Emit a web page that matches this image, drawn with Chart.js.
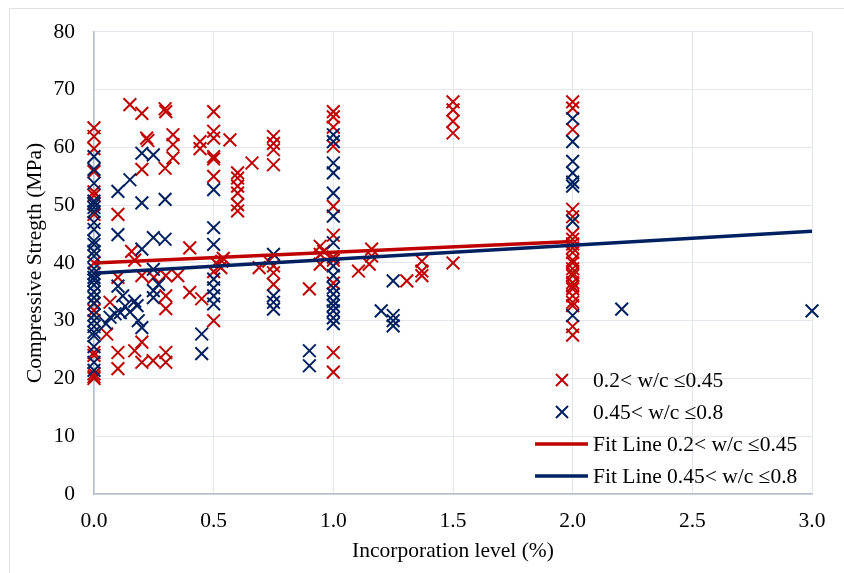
<!DOCTYPE html>
<html>
<head>
<meta charset="utf-8">
<script src="https://cdn.jsdelivr.net/npm/chart.js@4.4.1/dist/chart.umd.min.js"></script>
<style>
    html, body { margin: 0; padding: 0; background: #fff; }
    #wrap { position: relative; width: 844px; height: 573px; overflow: hidden; }
    #frame { position: absolute; left: 9px; top: 8px; width: 900px; height: 700px; border-left: 1px solid #e3e3e3; border-top: 1px solid #e3e3e3; pointer-events: none; }
</style>
</head>
<body>
<div id="wrap">
    <canvas id="scatterChart" width="844" height="573"></canvas>
    <div id="frame"></div>
</div>
<script>
// 0.2 < w/c <= 0.45
const lowX = [
    0, 0, 0, 0, 0, 0, 0, 0, 0, 0, 0, 0, 0, 0, 0,
    0.053, 0.067, 0.1, 0.1, 0.1, 0.1, 0.15, 0.157, 0.17, 0.17,
    0.2, 0.2, 0.2, 0.2, 0.2, 0.22, 0.225, 0.247, 0.25,
    0.297, 0.3, 0.297, 0.3, 0.3, 0.3, 0.3, 0.3,
    0.33, 0.33, 0.33, 0.35, 0.4, 0.4, 0.443, 0.443, 0.45,
    0.5, 0.5, 0.5, 0.5, 0.5, 0.5, 0.5, 0.5, 0.51, 0.534, 0.53, 0.54, 0.568,
    0.6, 0.6, 0.6, 0.6, 0.6, 0.6, 0.66, 0.69, 0.73,
    0.75, 0.75, 0.75, 0.75, 0.75, 0.75, 0.75, 0.9,
    0.945, 0.945, 0.945, 0.96,
    1, 1, 1, 1, 1, 1, 1, 1, 1, 1, 1,
    1.105, 1.16, 1.16, 1.15, 1.307, 1.37, 1.37, 1.37,
    1.5, 1.5, 1.5, 1.5, 1.5,
    2, 2, 2, 2, 2, 2, 2, 2, 2, 2, 2, 2, 2, 2, 2, 2, 2, 2, 2, 2, 2, 2, 2
];
const lowY = [
    63.4, 61.9, 59.8, 55.8, 52.3, 51.7, 48.4, 40.0, 33.0, 31.8, 24.5, 24.0, 20.8, 20.3, 20.0,
    27.7, 33.2, 48.4, 37.5, 24.5, 21.7, 67.4, 42.0, 40.5, 24.8,
    65.9, 56.2, 37.8, 26.3, 22.8, 61.6, 61.2, 23.1, 37.5,
    66.7, 66.2, 56.4, 37.8, 34.3, 32.1, 24.5, 22.8,
    62.2, 60.5, 58.2, 37.8, 42.6, 34.9, 59.8, 61.0, 33.8,
    66.2, 62.8, 61.6, 58.4, 58.0, 55.0, 38.5, 30.0, 40.0, 40.3, 39.2, 40.8, 61.3,
    55.6, 54.7, 53.3, 52.1, 50.1, 49.0, 57.3, 39.2, 40.3,
    61.9, 60.7, 59.6, 57.0, 38.3, 36.3, 39.5, 35.5,
    42.9, 41.5, 39.8, 42.0,
    66.2, 65.3, 63.5, 60.2, 49.8, 44.8, 41.0, 40.5, 36.5, 24.5, 21.1,
    38.6, 42.4, 41.2, 39.8, 36.9, 40.3, 38.6, 37.8,
    67.9, 66.5, 64.5, 62.5, 40.0,
    67.9, 66.8, 63.1, 49.3, 48.0, 45.0, 44.1, 43.3, 42.6, 41.8, 40.5, 40.0, 39.0, 38.3, 37.8, 36.6, 36.0, 35.5, 34.3, 33.2, 32.6, 29.0, 27.5
];

// 0.45 < w/c <= 0.8
const highX = [
    0, 0, 0, 0, 0, 0, 0, 0, 0, 0, 0, 0, 0, 0, 0, 0, 0, 0, 0, 0, 0, 0, 0, 0, 0, 0, 0, 0, 0,
    0.05, 0.067, 0.088, 0.1, 0.1, 0.1, 0.11, 0.12, 0.13,
    0.15, 0.15, 0.17, 0.18, 0.185, 0.2, 0.2, 0.2, 0.2,
    0.248, 0.248, 0.248, 0.248, 0.248, 0.27, 0.297, 0.297,
    0.45, 0.45, 0.5, 0.5, 0.5, 0.5, 0.5, 0.5, 0.5,
    0.75, 0.75, 0.75, 0.75, 0.9, 0.9,
    1, 1, 1, 1, 1, 1, 1, 1, 1, 1, 1, 1, 1, 1, 1, 1,
    1.2, 1.25, 1.25, 1.25, 1.25,
    2, 2, 2, 2, 2, 2, 2, 2,
    2.205, 3
];
const highY = [
    58.4, 56.2, 53.8, 50.7, 50.2, 49.6, 48.9, 47.0, 45.8, 43.8, 43.2, 42.0, 41.2, 39.0, 38.2, 37.5, 37.0, 36.2, 35.0, 34.0, 33.0, 31.0, 30.0, 29.0, 28.0, 27.4, 25.5, 22.8, 21.4,
    29.5, 30.6, 31.2, 52.4, 44.9, 36.0, 31.4, 34.3, 32.5,
    54.4, 31.5, 33.4, 32.6, 30.0, 59.0, 50.4, 42.4, 28.8,
    58.7, 44.4, 38.9, 35.2, 34.0, 36.3, 51.0, 44.1,
    27.7, 24.3, 52.7, 46.1, 43.2, 37.2, 35.7, 34.3, 32.9,
    41.5, 34.3, 33.2, 32.0, 24.8, 22.2,
    62.2, 61.0, 57.3, 55.6, 52.1, 48.1, 43.5, 39.5, 37.8, 35.7, 34.6, 33.4, 32.6, 31.7, 30.5, 29.5,
    31.7, 36.9, 30.9, 30.0, 29.1,
    65.0, 61.0, 57.6, 55.6, 54.0, 53.3, 47.2, 30.9,
    32.0, 31.7
];

// fit line end points
const fitLowX = [0, 2];
const fitLowY = [40.0, 43.7];
const fitHighX = [0, 3];
const fitHighY = [38.2, 45.5];

const xTicks = [0, 0.5, 1, 1.5, 2, 2.5, 3];
const yTicks = [0, 10, 20, 30, 40, 50, 60, 70, 80];

const labels = ['0.2< w/c \u22640.45', '0.45< w/c \u22640.8', 'Fit Line 0.2< w/c \u22640.45', 'Fit Line 0.45< w/c \u22640.8'];

const RED = '#C00000';
const BLUE = '#002060';
const FONT = "'Liberation Serif', 'Times New Roman', serif";

function toPoints(xs, ys) {
    return xs.map((x, i) => ({ x: x, y: ys[i] }));
}

// legend drawn inside the plot, lower right
const insideLegend = {
    id: 'insideLegend',
    afterDraw(chart) {
        const ctx = chart.ctx;
        ctx.save();
        ctx.font = '21.5px ' + FONT;
        ctx.fillStyle = '#000';
        ctx.textBaseline = 'middle';
        const rows = [380, 412, 444, 476];
        rows.forEach((y, i) => {
            const color = i % 2 === 0 ? RED : BLUE;
            ctx.strokeStyle = color;
            if (i < 2) {
                ctx.lineWidth = 2;
                ctx.beginPath();
                ctx.moveTo(556, y - 6); ctx.lineTo(568, y + 6);
                ctx.moveTo(568, y - 6); ctx.lineTo(556, y + 6);
                ctx.stroke();
            } else {
                ctx.lineWidth = 3.5;
                ctx.beginPath();
                ctx.moveTo(535, y); ctx.lineTo(588, y);
                ctx.stroke();
            }
            ctx.fillText(labels[i], 593, y + 1);
        });
        ctx.restore();
    }
};

new Chart(document.getElementById('scatterChart'), {
    type: 'scatter',
    data: {
        datasets: [{
            label: labels[0],
            data: toPoints(lowX, lowY),
            pointStyle: 'crossRot',
            radius: 9,
            borderWidth: 2,
            borderColor: RED,
            clip: false,
            order: 3
        },
        {
            label: labels[1],
            data: toPoints(highX, highY),
            pointStyle: 'crossRot',
            radius: 9,
            borderWidth: 2,
            borderColor: BLUE,
            clip: false,
            order: 2
        },
        {
            type: 'line',
            label: labels[2],
            data: toPoints(fitLowX, fitLowY),
            borderColor: RED,
            borderWidth: 3.5,
            pointRadius: 0,
            order: 1
        },
        {
            type: 'line',
            label: labels[3],
            data: toPoints(fitHighX, fitHighY),
            borderColor: BLUE,
            borderWidth: 3.5,
            pointRadius: 0,
            order: 0
        }]
    },
    options: {
        responsive: false,
        animation: false,
        layout: {
            padding: { left: 0, right: 32, top: 30, bottom: 0 }
        },
        plugins: {
            legend: { display: false },
            tooltip: { enabled: false }
        },
        scales: {
            x: {
                type: 'linear',
                min: 0,
                max: 3,
                afterBuildTicks: scale => { scale.ticks = xTicks.map(v => ({ value: v })); },
                afterFit: scale => { scale.height = 79; },
                ticks: {
                    color: '#000',
                    padding: 14,
                    font: { family: FONT, size: 21.5 },
                    callback: v => v.toFixed(1)
                },
                grid: { color: '#E3E6EC', drawTicks: false },
                border: { color: '#B4BFD0', width: 1.5 },
                title: {
                    display: true,
                    text: 'Incorporation level (%)',
                    color: '#000',
                    font: { family: FONT, size: 21.5 },
                    padding: { top: 0, bottom: 9 }
                }
            },
            y: {
                min: 0,
                max: 80,
                afterBuildTicks: scale => { scale.ticks = yTicks.map(v => ({ value: v })); },
                afterFit: scale => { scale.width = 94; },
                ticks: {
                    color: '#000',
                    padding: 19,
                    font: { family: FONT, size: 21.5 }
                },
                grid: { color: '#E3E6EC', drawTicks: false },
                border: { color: '#B4BFD0', width: 1.5 },
                title: {
                    display: true,
                    text: 'Compressive Stregth (MPa)',
                    color: '#000',
                    font: { family: FONT, size: 21.5 },
                    padding: { top: 22, bottom: 0 }
                }
            }
        }
    },
    plugins: [insideLegend]
});
</script>
</body>
</html>
